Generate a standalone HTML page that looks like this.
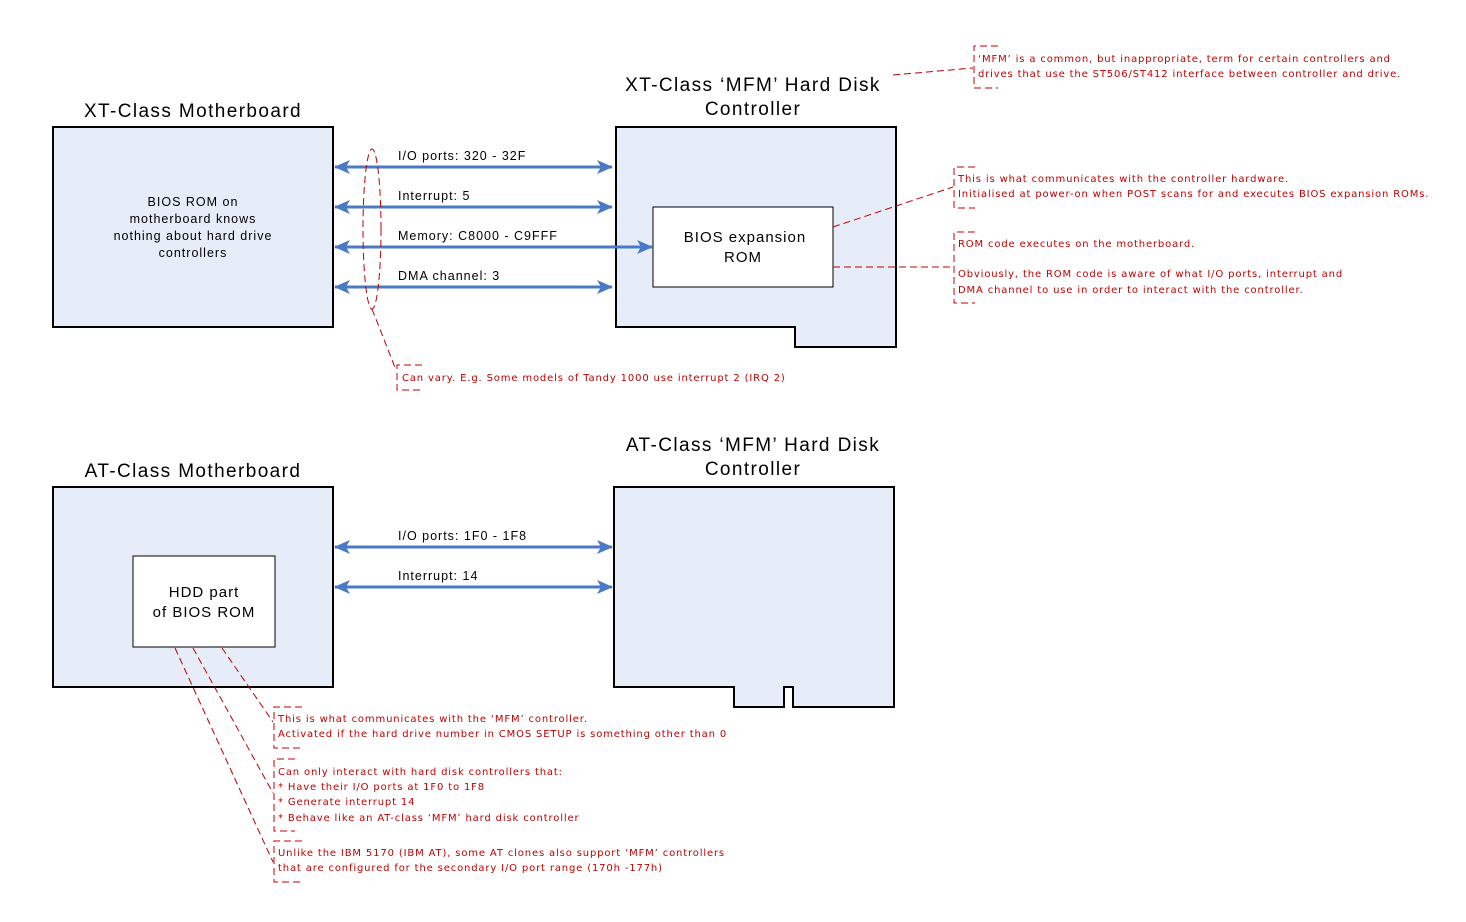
<!DOCTYPE html>
<html><head><meta charset="utf-8"><style>
html,body{margin:0;padding:0;background:#fff;}
svg{display:block;}
.t{font-family:"Liberation Sans",sans-serif;fill:#000;letter-spacing:1px;}
.h{letter-spacing:1.4px;}
.a{font-family:"DejaVu Sans","Liberation Sans",sans-serif;font-size:10px;fill:#c00000;letter-spacing:0.85px;}
.d{fill:none;stroke:#c00000;stroke-width:1;stroke-dasharray:7,4;}
</style></head><body>
<svg width="1466" height="922" viewBox="0 0 1466 922" xmlns="http://www.w3.org/2000/svg">
<defs>
<marker id="ah" viewBox="0 0 16 14" refX="15" refY="7" markerWidth="16" markerHeight="14" markerUnits="userSpaceOnUse" orient="auto-start-reverse">
<path d="M0,0 L16,7 L0,14 L4,7 Z" fill="#4a7ac4"/>
</marker>
</defs>
<!-- XT motherboard -->
<text class="t h" x="193" y="117" font-size="19" text-anchor="middle">XT-Class Motherboard</text>
<rect x="53" y="127" width="280" height="200" fill="#e6edf8" stroke="#000" stroke-width="2"/>
<text class="t" font-size="12.5" text-anchor="middle"><tspan x="193" y="206">BIOS ROM on</tspan><tspan x="193" y="223">motherboard knows</tspan><tspan x="193" y="240">nothing about hard drive</tspan><tspan x="193" y="257">controllers</tspan></text>
<!-- XT controller -->
<text class="t h" font-size="19" text-anchor="middle"><tspan x="753" y="91">XT-Class ‘MFM’ Hard Disk</tspan><tspan x="753" y="115">Controller</tspan></text>
<path d="M616,127 H896 V347 H795 V327 H616 Z" fill="#e6edf8" stroke="#000" stroke-width="2"/>
<rect x="653" y="207" width="180" height="80" fill="#fff" stroke="#000" stroke-width="1"/>
<text class="t" font-size="15" text-anchor="middle"><tspan x="745" y="242">BIOS expansion</tspan><tspan x="743" y="262">ROM</tspan></text>
<!-- XT arrows -->
<g stroke="#4a7ac4" stroke-width="3" fill="none">
<line x1="335" y1="167" x2="612" y2="167" marker-start="url(#ah)" marker-end="url(#ah)"/>
<line x1="335" y1="207" x2="612" y2="207" marker-start="url(#ah)" marker-end="url(#ah)"/>
<line x1="335" y1="247" x2="652" y2="247" marker-start="url(#ah)" marker-end="url(#ah)"/>
<line x1="335" y1="287" x2="612" y2="287" marker-start="url(#ah)" marker-end="url(#ah)"/>
</g>
<g class="t" font-size="12.5">
<text x="398" y="160">I/O ports: 320 - 32F</text>
<text x="398" y="200">Interrupt: 5</text>
<text x="398" y="240">Memory: C8000 - C9FFF</text>
<text x="398" y="280">DMA channel: 3</text>
</g>
<!-- XT annotations -->
<ellipse class="d" cx="372" cy="229" rx="9" ry="80"/>
<line class="d" x1="372" y1="309" x2="396" y2="370"/>
<path class="d" d="M422,365 H397 V390 H422"/>
<text class="a" x="402" y="381">Can vary.  E.g. Some models of Tandy 1000 use interrupt 2 (IRQ 2)</text>

<line class="d" x1="893" y1="75" x2="973" y2="68"/>
<path class="d" d="M998,46 H974 V88 H998"/>
<text class="a"><tspan x="978" y="62">‘MFM’ is a common, but inappropriate, term for certain controllers and</tspan><tspan x="978" y="77">drives that use the ST506/ST412 interface between controller and drive.</tspan></text>

<line class="d" x1="833" y1="227" x2="953" y2="187"/>
<path class="d" d="M975,167 H954 V208 H975"/>
<text class="a"><tspan x="958" y="182">This is what communicates with the controller hardware.</tspan><tspan x="958" y="197">Initialised at power-on when POST scans for and executes BIOS expansion ROMs.</tspan></text>

<line class="d" x1="833" y1="267" x2="953" y2="267"/>
<path class="d" d="M975,232 H954 V303 H975"/>
<text class="a"><tspan x="958" y="247">ROM code executes on the motherboard.</tspan><tspan x="958" y="277">Obviously, the ROM code is aware of what I/O ports, interrupt and</tspan><tspan x="958" y="293">DMA channel to use in order to interact with the controller.</tspan></text>

<!-- AT motherboard -->
<text class="t h" x="193" y="477" font-size="19" text-anchor="middle">AT-Class Motherboard</text>
<rect x="53" y="487" width="280" height="200" fill="#e6edf8" stroke="#000" stroke-width="2"/>
<rect x="133" y="556" width="142" height="91" fill="#fff" stroke="#000" stroke-width="1"/>
<text class="t" font-size="15" text-anchor="middle"><tspan x="204" y="597">HDD part</tspan><tspan x="204" y="617">of BIOS ROM</tspan></text>
<!-- AT controller -->
<text class="t h" font-size="19" text-anchor="middle"><tspan x="753" y="451">AT-Class ‘MFM’ Hard Disk</tspan><tspan x="753" y="475">Controller</tspan></text>
<path d="M614,487 H894 V707 H793 V687 H784 V707 H734 V687 H614 Z" fill="#e6edf8" stroke="#000" stroke-width="2"/>
<g stroke="#4a7ac4" stroke-width="3" fill="none">
<line x1="335" y1="547" x2="612" y2="547" marker-start="url(#ah)" marker-end="url(#ah)"/>
<line x1="335" y1="587" x2="612" y2="587" marker-start="url(#ah)" marker-end="url(#ah)"/>
</g>
<g class="t" font-size="12.5">
<text x="398" y="540">I/O ports: 1F0 - 1F8</text>
<text x="398" y="580">Interrupt: 14</text>
</g>
<!-- AT annotations -->
<line class="d" x1="222" y1="648" x2="273" y2="722"/>
<line class="d" x1="193" y1="648" x2="273" y2="793"/>
<line class="d" x1="175" y1="648" x2="273" y2="862"/>
<path class="d" d="M302,707 H274 V748 H302"/>
<text class="a"><tspan x="278" y="722">This is what communicates with the ‘MFM’ controller.</tspan><tspan x="278" y="737">Activated if the hard drive number in CMOS SETUP is something other than 0</tspan></text>
<path class="d" d="M295,759 H274 V831 H295"/>
<text class="a"><tspan x="278" y="775">Can only interact with hard disk controllers that:</tspan><tspan x="278" y="790">* Have their I/O ports at 1F0 to 1F8</tspan><tspan x="278" y="805">* Generate interrupt 14</tspan><tspan x="278" y="821">* Behave like an AT-class ‘MFM’ hard disk controller</tspan></text>
<path class="d" d="M302,841 H274 V882 H302"/>
<text class="a"><tspan x="278" y="856">Unlike the IBM 5170 (IBM AT), some AT clones also support ‘MFM’ controllers</tspan><tspan x="278" y="871">that are configured for the secondary I/O port range (170h -177h)</tspan></text>
</svg>
</body></html>
